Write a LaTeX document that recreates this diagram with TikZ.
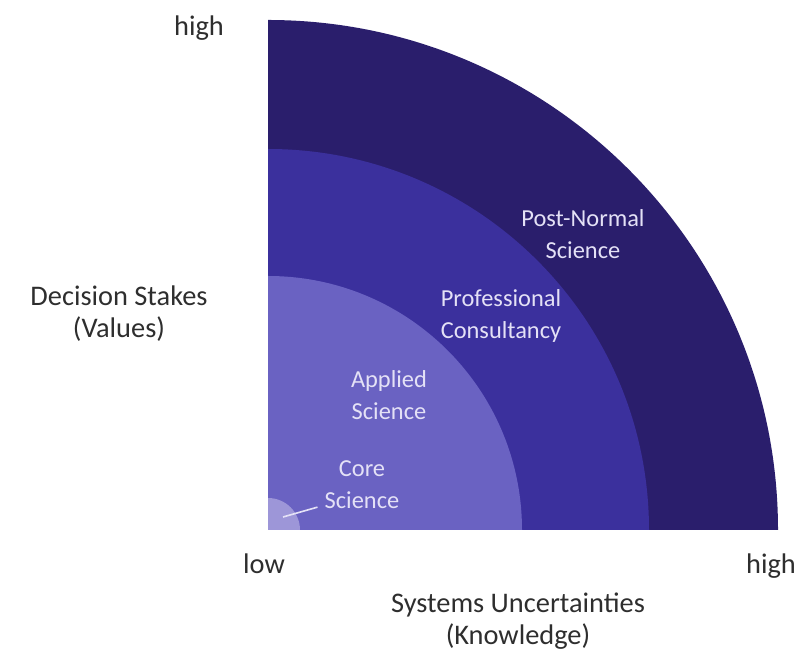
\documentclass[tikz,border=0pt]{standalone}
\usepackage{fontspec}
\setmainfont{Carlito}
\usetikzlibrary{positioning}
\definecolor{pnsColor}{HTML}{2A1E6C}
\definecolor{pcColor}{HTML}{3B309D}
\definecolor{asColor}{HTML}{6A62C2}
\definecolor{csColor}{HTML}{9D96D8}
\definecolor{inText}{HTML}{E4E1F6}
\definecolor{axText}{HTML}{2E2E2E}
\tikzset{
  axlabel/.style={ text=axText, font=\fontsize{28.5}{32}\selectfont, align=center, inner sep=0pt }
}
\tikzset{
  inlabel/.style={ text=inText, font=\fontsize{24.5}{32}\selectfont, align=center, inner sep=0pt }
}
\begin{document}
\begin{tikzpicture}[x=1bp, y=1bp]
      \useasboundingbox (0,0) rectangle (798,651);
      \coordinate (O) at (268,121);

      % the quarter discs
      \fill[pnsColor] (O) -- (778,121) arc (0:90:510) -- cycle;
      \fill[pcColor] (O) -- (649,121) arc (0:90:381) -- cycle;
      \fill[asColor] (O) -- (522,121) arc (0:90:254) -- cycle;
      \fill[csColor] (O) -- (300,121) arc (0:90:32) -- cycle;

      \node[inlabel] (pns) at (583,417) {Post-Normal\\Science};
      \node[inlabel] (pc) at (501,335) {Professional\\Consultancy};
      \node[inlabel] (as) at (389,256) {Applied\\Science};
      \node[inlabel] (cs) at (362,166) {Core\\Science};
      \coordinate (csdot) at (283,134);
      \draw[inText, line width=1.6bp] (csdot) -- ([xshift=-7bp, yshift=2bp]cs.south west);

      \node[axlabel] (yhigh) at (199,623) {high};
      \node[axlabel] (yname) at (119,337) {Decision Stakes\\(Values)};
      \node[axlabel] (xlow) at (264,87) {low};
      \node[axlabel] (xhigh) at (771,85) {high};
      \node[axlabel] (xname) at (518,30) {Systems Uncertainties\\(Knowledge)};
    \end{tikzpicture}
\end{document}
